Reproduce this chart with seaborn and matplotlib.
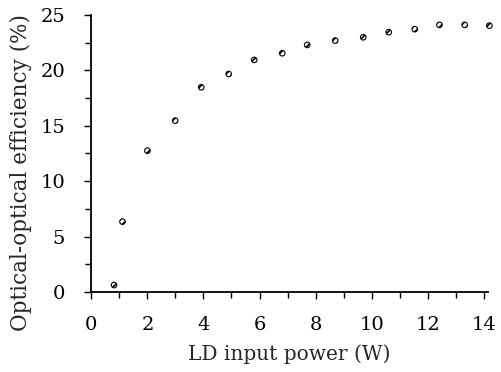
import matplotlib
matplotlib.use("Agg")

import pandas as pd
import matplotlib.pyplot as plt
import seaborn as sns
from matplotlib.ticker import MultipleLocator

sns.set_style("ticks")
plt.rcParams['font.family'] = ['DejaVu Serif']
plt.rcParams['hatch.linewidth'] = 1.2

# LD input power (W) vs optical-optical efficiency (%)
power = [0.81, 1.11, 2.0, 2.99, 3.92, 4.9, 5.81, 6.81, 7.70, 8.70, 9.70, 10.61, 11.54, 12.42, 13.32, 14.2]
efficiency = [0.63, 6.35, 12.75, 15.46, 18.47, 19.67, 20.94, 21.54, 22.29, 22.68, 22.98, 23.44, 23.71, 24.1, 24.1, 24.03]

df = pd.DataFrame({'power': power, 'efficiency': efficiency})

fig = plt.figure(figsize=(5.02, 3.72), dpi=100)
ax = fig.add_axes([0.182, 0.215, 0.79, 0.745])

sns.scatterplot(data=df, x='power', y='efficiency', ax=ax, marker='o', s=16,
                color='white', edgecolor='black', linewidth=0.8, clip_on=False, zorder=3)
ax.collections[0].set_hatch('/////')

ax.set_xlim(0, 14.15)
ax.set_ylim(0, 25)
ax.xaxis.set_major_locator(MultipleLocator(2))
ax.xaxis.set_minor_locator(MultipleLocator(1))
ax.yaxis.set_major_locator(MultipleLocator(5))
ax.yaxis.set_minor_locator(MultipleLocator(2.5))
ax.tick_params(which='both', direction='out', width=1, colors='black', labelsize=14)
ax.tick_params(which='major', length=5)
ax.tick_params(which='minor', length=4)
ax.tick_params(axis='x', which='major', pad=12)
ax.tick_params(axis='y', which='major', pad=14)
sns.despine(ax=ax)
for s in ['left', 'bottom']:
    ax.spines[s].set_linewidth(1.3)
    ax.spines[s].set_color('black')

ax.set_xlabel('LD input power (W)', fontsize=14.5, labelpad=8)
ax.set_ylabel('Optical-optical efficiency (%)', fontsize=15.5, va='center')
ax.yaxis.set_label_coords(-0.178, 0.43)

plt.savefig('out.png', dpi=100)
plt.close()
